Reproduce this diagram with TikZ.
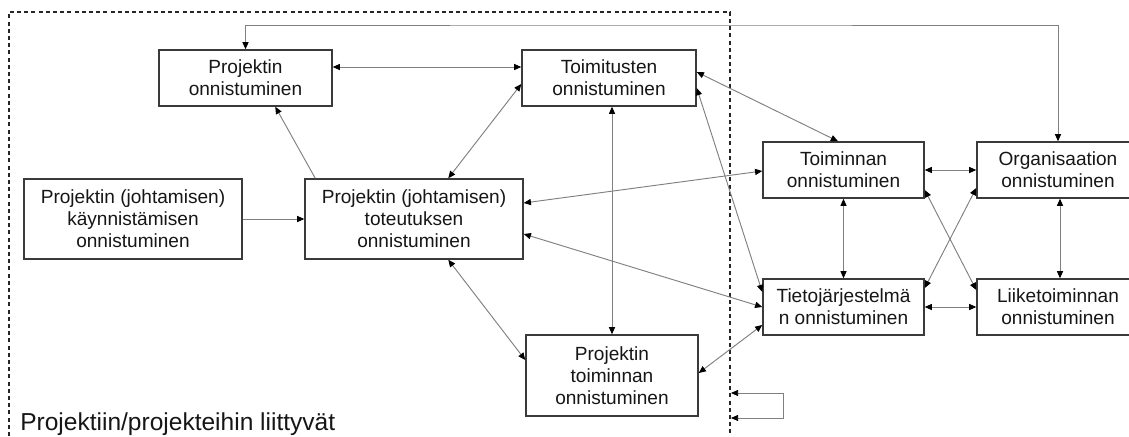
\documentclass[tikz,border=0pt]{standalone}
\usepackage{fontspec}
\setmainfont{Liberation Sans}
\usetikzlibrary{arrows.meta,calc}

\definecolor{boxline}{HTML}{3A3A3A}
\definecolor{linkline}{HTML}{808080}
\definecolor{inktext}{HTML}{161616}

\tikzset{
  box/.style={draw=boxline, line width=1.1pt, fill=white, rectangle,
    inner sep=0pt, align=center, text=inktext,
    font=\fontsize{14.3}{16.6}\selectfont},
  link/.style={draw=linkline, line width=0.7pt,
    {Triangle[length=5.4pt,width=4.6pt,color=black]}-{Triangle[length=5.4pt,width=4.6pt,color=black]}},
  onelink/.style={draw=linkline, line width=0.7pt,
    -{Triangle[length=5.4pt,width=4.6pt,color=black]}},
  region/.style={draw=black!85, line width=0.9pt, dash pattern=on 3pt off 2.4pt}
}

\begin{document}
\begin{tikzpicture}[x=0.75pt, y=-0.75pt]
  \clip (0,0) rectangle (1129,436);
  \fill[white] (0,0) rectangle (1129,436);

  % project-related area (open at the bottom)
  \draw[region] (9,436) -- (9,12) -- (730,12) -- (730,436);

  % boxes
  \node[box, minimum width=173*0.75pt, minimum height=56*0.75pt] (pon) at (245.5,78) {Projektin\\onnistuminen};
  \node[box, minimum width=174*0.75pt, minimum height=56*0.75pt] (toim) at (609,78) {Toimitusten\\onnistuminen};
  \node[box, minimum width=218*0.75pt, minimum height=80*0.75pt] (kay) at (133,219) {Projektin (johtamisen)\\käynnistämisen\\onnistuminen};
  \node[box, minimum width=218*0.75pt, minimum height=80*0.75pt] (tot) at (414,219) {Projektin (johtamisen)\\toteutuksen\\onnistuminen};
  \node[box, minimum width=172*0.75pt, minimum height=81*0.75pt] (pto) at (612,375.5) {Projektin\\toiminnan\\onnistuminen};
  \node[box, minimum width=161*0.75pt, minimum height=56*0.75pt] (tmi) at (843.5,170) {Toiminnan\\onnistuminen};
  \node[box, minimum width=162*0.75pt, minimum height=56*0.75pt] (org) at (1058,170) {Organisaation\\onnistuminen};
  \node[box, minimum width=161*0.75pt, minimum height=56*0.75pt] (tj) at (843.5,307) {Tietojärjestelmä\\n onnistuminen};
  \node[box, minimum width=162*0.75pt, minimum height=56*0.75pt] (lii) at (1058,307) {Liiketoiminnan\\onnistuminen};

  \node[anchor=base west, inner sep=0pt, text=inktext, font=\fontsize{18.4}{20}\selectfont] (lbl) at (20,430) {Projektiin/projekteihin liittyvät};

  % connectors
  \coordinate (topline) at (650,25);
  \draw[link] (pon.north) |- (topline) -| (org.north);

  \draw[link] ($(pon.east)+(0,-11)$) -- ($(toim.west)+(0,-11)$);
  \draw[onelink] ($(tot.north west)+(11,0)$) -- ($(pon.south west)+(117,0)$);
  \draw[onelink] (kay.east) -- (tot.west);
  \draw[link] ($(tot.north west)+(144,0)$) -- ($(toim.west)+(0,6)$);
  \draw[link] ($(toim.south)+(3,0)$) -- (pto.north);
  \draw[link] ($(toim.east)+(0,-6)$) -- ($(tmi.north)+(-5.5,0)$);
  \draw[link] ($(toim.east)+(0,10)$) -- ($(tj.west)+(0,-15)$);
  \draw[link] ($(tot.east)+(0,-16)$) -- ($(tmi.west)+(0,1)$);
  \draw[link] ($(tot.east)+(0,15)$) -- (tj.west);
  \draw[link] ($(tot.south west)+(144,0)$) -- ($(pto.west)+(0,-15.5)$);
  \draw[link] ($(pto.east)+(0,-2.5)$) -- ($(tj.west)+(0,18)$);

  \draw[link] (tmi.east) -- (org.west);
  \draw[link] (tmi.south) -- (tj.north);
  \draw[link] ($(org.south)+(2,0)$) -- ($(lii.north)+(2,0)$);
  \draw[link] (tj.east) -- (lii.west);
  \draw[link] ($(tmi.east)+(0,20)$) -- ($(lii.west)+(0,-17)$);
  \draw[link] ($(tj.east)+(0,-19)$) -- ($(org.west)+(0,18)$);

  % small loop returning to the area border
  \coordinate (loopa) at (731,393);
  \coordinate (loopb) at (731,418);
  \draw[link] (loopa) -- ++(52,0) |- (loopb);
\end{tikzpicture}
\end{document}
